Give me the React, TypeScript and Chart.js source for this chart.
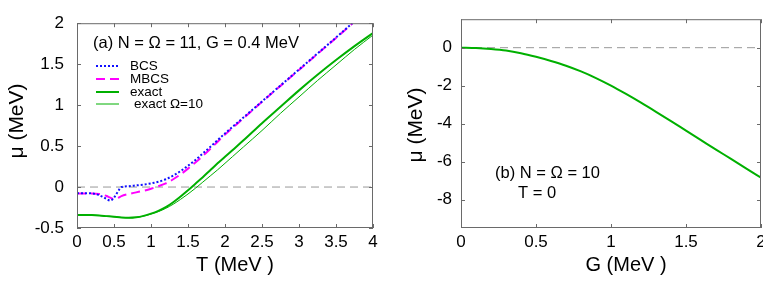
import { useEffect, useRef } from "react";
import { Chart, registerables } from "chart.js";
Chart.register(...registerables);

const FONT = "'Liberation Sans', Arial, Helvetica, sans-serif";

// ---- Panel (a): mu vs T, N = Omega = 11, G = 0.4 MeV ----
const bcsT = [0, 0.1, 0.2, 0.25, 0.3, 0.35, 0.4, 0.45, 0.5, 0.55, 0.6, 0.7, 0.8, 0.9, 1.0, 1.1, 1.2, 1.3, 1.4, 1.5, 1.6, 1.7, 1.8, 2.0, 2.25, 2.5, 2.75, 3.0, 3.25, 3.5, 3.72];
const bcsMu = [-0.075, -0.075, -0.078, -0.085, -0.1, -0.12, -0.145, -0.165, -0.13, -0.06, 0.0, 0.01, 0.02, 0.03, 0.045, 0.065, 0.095, 0.14, 0.195, 0.26, 0.33, 0.41, 0.49, 0.655, 0.85, 1.045, 1.24, 1.435, 1.63, 1.825, 2.0];

const mbcsT = [0, 0.1, 0.2, 0.3, 0.35, 0.4, 0.45, 0.5, 0.55, 0.6, 0.7, 0.8, 0.9, 1.0, 1.1, 1.2, 1.3, 1.4, 1.5, 1.6, 1.7, 1.8, 2.0, 2.25, 2.5, 2.75, 3.0, 3.25, 3.5, 3.72];
const mbcsMu = [-0.08, -0.08, -0.08, -0.085, -0.095, -0.11, -0.13, -0.145, -0.135, -0.11, -0.085, -0.065, -0.045, -0.02, 0.01, 0.045, 0.095, 0.155, 0.225, 0.3, 0.38, 0.465, 0.64, 0.84, 1.04, 1.235, 1.43, 1.625, 1.82, 1.995];

const exactT = [0, 0.1, 0.2, 0.3, 0.4, 0.5, 0.6, 0.7, 0.8, 0.9, 1.0, 1.1, 1.2, 1.3, 1.4, 1.5, 1.6, 1.7, 1.8, 1.9, 2.0, 2.1, 2.25, 2.5, 2.75, 3.0, 3.25, 3.5, 3.75, 4.0];
const exactMu = [-0.34, -0.34, -0.342, -0.347, -0.355, -0.363, -0.372, -0.376, -0.37, -0.352, -0.325, -0.29, -0.245, -0.185, -0.115, -0.04, 0.04, 0.12, 0.205, 0.29, 0.37, 0.45, 0.57, 0.78, 0.98, 1.18, 1.37, 1.55, 1.72, 1.88];
const exact10Mu = [-0.34, -0.34, -0.342, -0.347, -0.355, -0.363, -0.372, -0.376, -0.37, -0.355, -0.33, -0.3, -0.26, -0.21, -0.15, -0.085, -0.015, 0.06, 0.135, 0.21, 0.29, 0.37, 0.49, 0.69, 0.9, 1.1, 1.3, 1.49, 1.68, 1.855];

const zeroA = [{ x: 0, y: 0 }, { x: 4, y: 0 }];

const legendLabels = ["BCS", "MBCS", "exact", "exact \u03A9=10"];
const titleA = "(a) N = \u03A9 = 11, G = 0.4 MeV";

// ---- Panel (b): mu vs G, N = Omega = 10, T = 0 ----
const gVals = [0, 0.1, 0.2, 0.3, 0.4, 0.5, 0.6, 0.7, 0.8, 0.9, 1.0, 1.1, 1.2, 1.3, 1.4, 1.5, 1.6, 1.7, 1.8, 1.9, 2.0];
const muG = [0, -0.02, -0.07, -0.15, -0.29, -0.48, -0.7, -0.95, -1.25, -1.6, -2.0, -2.44, -2.9, -3.38, -3.87, -4.37, -4.87, -5.37, -5.86, -6.36, -6.85];
const zeroB = [{ x: 0, y: 0 }, { x: 2, y: 0 }];
const yTicksB = [-8, -6, -4, -2, 0];
const titleB1 = "(b) N = \u03A9 = 10";
const titleB2 = "T = 0";

const BLUE = "#1010ff";
const PINK = "#ff00ff";
const GREEN = "#00b000";
const FRAME = "#6a6a6a";

function pts(xs: number[], ys: number[]) {
  return xs.map((x, i) => ({ x, y: ys[i] }));
}

const frameTicks = {
  id: "frameTicks",
  afterDatasetsDraw(chart: any) {
    const { ctx, chartArea: a, scales } = chart;
    const L = 4;
    ctx.save();
    ctx.strokeStyle = FRAME;
    ctx.lineWidth = 1;
    ctx.setLineDash([]);
    ctx.beginPath();
    for (const t of scales.x.ticks) {
      const px = Math.round(scales.x.getPixelForValue(t.value)) + 0.5;
      ctx.moveTo(px, a.bottom);
      ctx.lineTo(px, a.bottom - L);
      ctx.moveTo(px, a.top);
      ctx.lineTo(px, a.top + L);
    }
    for (const t of scales.y.ticks) {
      const py = Math.round(scales.y.getPixelForValue(t.value)) + 0.5;
      ctx.moveTo(a.left, py);
      ctx.lineTo(a.left + L, py);
      ctx.moveTo(a.right, py);
      ctx.lineTo(a.right - L, py);
    }
    ctx.stroke();
    ctx.strokeRect(a.left + 0.5, a.top + 0.5, a.right - a.left - 1, a.bottom - a.top - 1);
    ctx.restore();
  },
};

const fmt = (v: any) => String(Number(v));

function baseOptions(xMin: number, xMax: number, yMin: number, yMax: number, padRight: number, yWidth: number, yPad: number, yAfterBuild?: (s: any) => void) {
  return {
    responsive: false,
    maintainAspectRatio: false,
    animation: false as const,
    events: [],
    layout: { padding: { left: 0, right: padRight, top: 16, bottom: 0 } },
    plugins: { legend: { display: false }, tooltip: { enabled: false }, title: { display: false } },
    elements: { point: { radius: 0 }, line: { cubicInterpolationMode: "monotone" as const } },
    scales: {
      x: {
        type: "linear" as const,
        min: xMin,
        max: xMax,
        afterFit: (s: any) => { s.height = 55; },
        grid: { display: false, drawTicks: false },
        border: { display: false },
        ticks: { stepSize: 0.5, color: "#000", font: { size: 17, family: FONT }, padding: 4, maxRotation: 0, autoSkip: false, callback: fmt },
      },
      y: {
        type: "linear" as const,
        min: yMin,
        max: yMax,
        afterFit: (s: any) => { s.width = yWidth; },
        afterBuildTicks: yAfterBuild,
        grid: { display: false, drawTicks: false },
        border: { display: false },
        ticks: { stepSize: 0.5, color: "#000", font: { size: 17, family: FONT }, padding: yPad, autoSkip: false, callback: fmt },
      },
    },
  };
}

function line(data: any[], color: string, width: number, dash: number[] = []) {
  return { data, showLine: true, borderColor: color, backgroundColor: color, borderWidth: width, borderDash: dash, pointRadius: 0, fill: false };
}

export default function App() {
  const leftRef = useRef<HTMLCanvasElement>(null);
  const rightRef = useRef<HTMLCanvasElement>(null);

  useEffect(() => {
    document.body.style.margin = "0";
    Chart.defaults.font.family = FONT;

    const textA = {
      id: "textA",
      afterDraw(chart: any) {
        const ctx = chart.ctx;
        ctx.save();
        ctx.fillStyle = "#000";
        ctx.textBaseline = "middle";
        ctx.textAlign = "left";
        ctx.font = `16.5px ${FONT}`;
        ctx.fillText(titleA, 93, 43);
        const ys = [66, 79, 92, 104];
        const styles = [
          { c: BLUE, w: 2, d: [2, 2] },
          { c: PINK, w: 2, d: [9, 5] },
          { c: GREEN, w: 2, d: [] },
          { c: GREEN, w: 1, d: [] },
        ];
        ctx.font = `13.5px ${FONT}`;
        legendLabels.forEach((lab, i) => {
          const s = styles[i];
          ctx.strokeStyle = s.c;
          ctx.lineWidth = s.w;
          ctx.setLineDash(s.d);
          ctx.beginPath();
          ctx.moveTo(96, ys[i]);
          ctx.lineTo(119, ys[i]);
          ctx.stroke();
          ctx.fillText(lab, i === 3 ? 134 : 130, ys[i]);
        });
        ctx.setLineDash([]);
        ctx.textAlign = "center";
        ctx.font = `20px ${FONT}`;
        ctx.fillText("T (MeV )", 235, 265);
        ctx.translate(17, 121);
        ctx.rotate(-Math.PI / 2);
        ctx.font = `21px ${FONT}`;
        ctx.fillText("\u03BC (MeV)", 0, 0);
        ctx.restore();
      },
    };

    const textB = {
      id: "textB",
      afterDraw(chart: any) {
        const ctx = chart.ctx;
        ctx.save();
        ctx.fillStyle = "#000";
        ctx.textBaseline = "middle";
        ctx.textAlign = "left";
        ctx.font = `16.5px ${FONT}`;
        ctx.fillText(titleB1, 105, 173);
        ctx.fillText(titleB2, 128, 193);
        ctx.textAlign = "center";
        ctx.font = `20px ${FONT}`;
        ctx.fillText("G (MeV )", 236, 265);
        ctx.translate(26, 125);
        ctx.rotate(-Math.PI / 2);
        ctx.font = `21px ${FONT}`;
        ctx.fillText("\u03BC (MeV)", 0, 0);
        ctx.restore();
      },
    };

    const c1 = new Chart(leftRef.current as HTMLCanvasElement, {
      type: "scatter",
      data: {
        datasets: [
          line(pts(bcsT, bcsMu), BLUE, 2, [2, 2]),
          line(pts(mbcsT, mbcsMu), PINK, 2, [9, 5]),
          line(pts(exactT, exactMu), GREEN, 2),
          line(pts(exactT, exact10Mu), GREEN, 1),
          { ...line(zeroA, "#999999", 1, [8, 5]), cubicInterpolationMode: "default" },
        ] as any,
      },
      options: baseOptions(0, 4, -0.5, 2, 17, 77, 13) as any,
      plugins: [frameTicks, textA],
    });

    const c2 = new Chart(rightRef.current as HTMLCanvasElement, {
      type: "scatter",
      data: {
        datasets: [
          line(pts(gVals, muG), GREEN, 2),
          { ...line(zeroB, "#999999", 1, [8, 5]), cubicInterpolationMode: "default" },
        ] as any,
      },
      options: baseOptions(0, 2, -9.5, 1.5, 14, 71, 9, (s: any) => {
        s.ticks = yTicksB.map((v) => ({ value: v }));
      }) as any,
      plugins: [frameTicks, textB],
    });

    return () => {
      c1.destroy();
      c2.destroy();
    };
  }, []);

  return (
    <div style={{ position: "relative", width: 763, height: 283, overflow: "hidden", background: "#fff" }}>
      <canvas ref={leftRef} width={390} height={283} style={{ position: "absolute", left: 0, top: 0, width: 390, height: 283 }} />
      <canvas ref={rightRef} width={385} height={283} style={{ position: "absolute", left: 390, top: 0, width: 385, height: 283 }} />
    </div>
  );
}
